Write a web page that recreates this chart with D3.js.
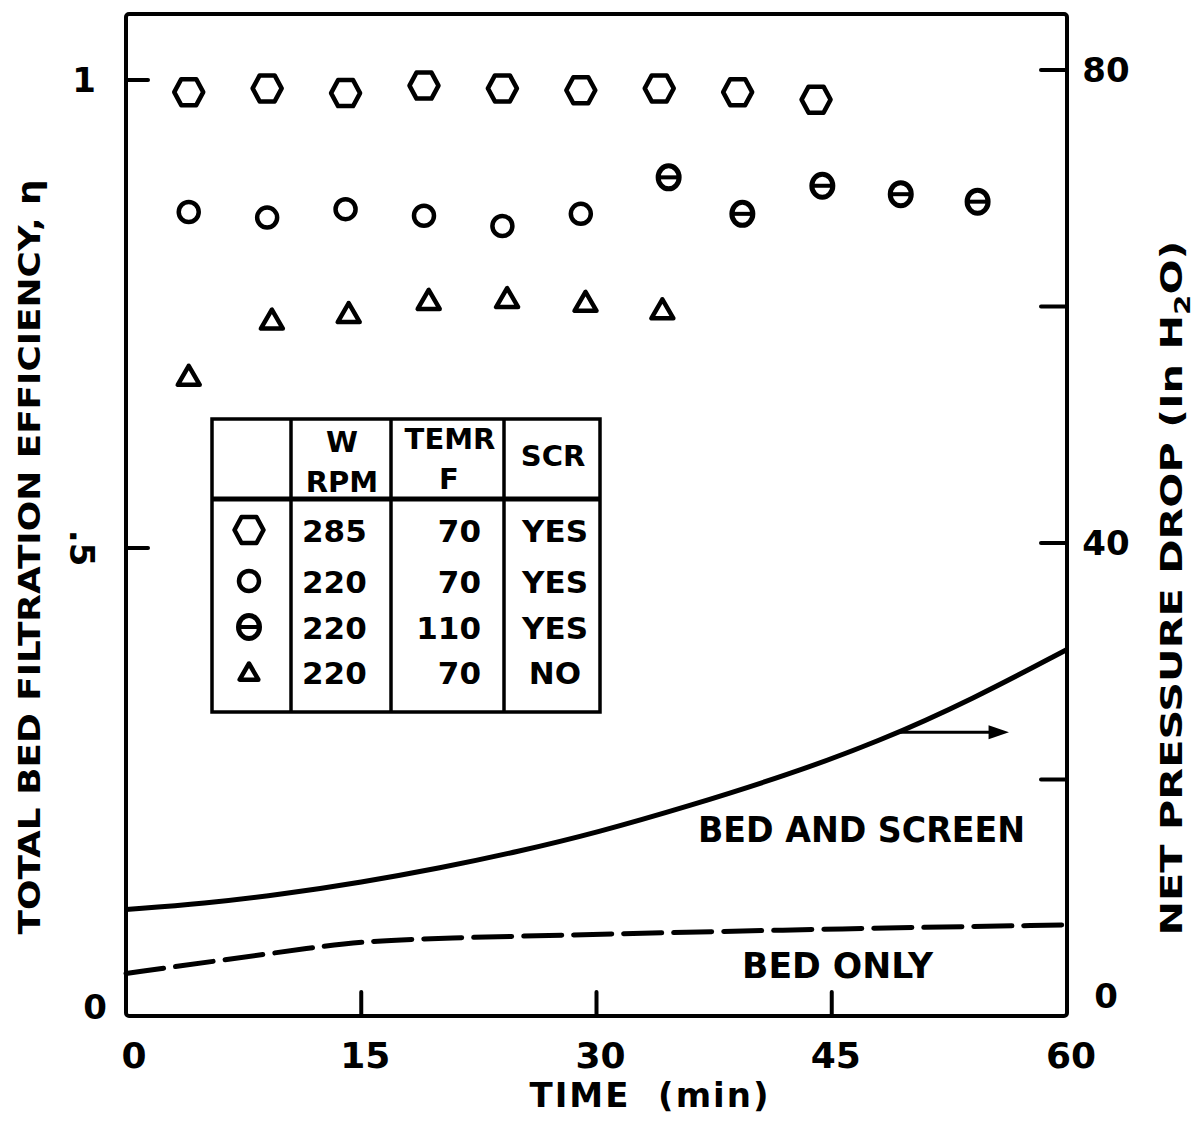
<!DOCTYPE html>
<html><head><meta charset="utf-8">
<script src="https://cdn.jsdelivr.net/npm/d3@7"></script>
<style>body{margin:0;background:#fff}</style>
</head><body>
<script>
// ---- data ----
const hexTime=[4,9,14,19,24,29,34,39,44];
const hexEff=[0.987,0.991,0.986,0.994,0.991,0.989,0.991,0.987,0.979];
const circTime=[4,9,14,19,24,29];
const circEff=[0.859,0.853,0.862,0.855,0.844,0.857];
const thetaTime=[34.6,39.3,44.4,49.4,54.3];
const thetaEff=[0.896,0.857,0.887,0.878,0.870];
const triTime=[4,9.3,14.2,19.3,24.3,29.3,34.2];
const triEff=[0.684,0.744,0.751,0.765,0.767,0.763,0.755];
const bedScreenTime=[0,5,10,15,20,25,30,36,42,48,54,60];
const bedScreenDrop=[9.0,9.5,10.3,11.3,12.5,13.9,15.5,17.8,20.3,23.2,26.8,31.0];
const bedOnlyTime=[0,6,12,15,20,30,46,60];
const bedOnlyDrop=[3.6,4.7,5.8,6.3,6.6,6.9,7.4,7.7];
const xTicks=[0,15,30,45,60];
const xTickLabels=["0","15","30","45","60"];
const effTicks=[0,0.5,1];
const effTickLabels=["0",".5","1"];
const dropTicks=[0,20,40,60,80];
const dropTickLabels=["0","","40","","80"];
const legendSymbols=["hex","circle","theta","tri"];
const legendRPM=["285","220","220","220"];
const legendTemp=["70","70","110","70"];
const legendScr=["YES","YES","YES","NO"];

const W=1204,H=1123;
const FONT="'DejaVu Sans', Verdana, sans-serif";
const svg=d3.select("body").append("svg").attr("width",W).attr("height",H)
  .style("font-family",FONT).style("font-weight","bold");

const x=d3.scaleLinear().domain([0,60]).range([126,1067]);
const yE=d3.scaleLinear().domain([0,1]).range([1016,80]);
const yP=d3.scaleLinear().domain([0,80]).range([1016,70]);
const frameTop=14;

// frame
svg.append("rect").attr("x",x(0)).attr("y",frameTop).attr("width",x(60)-x(0)).attr("height",yE(0)-frameTop)
  .attr("fill","none").attr("stroke","#000").attr("stroke-width",4).attr("rx",3);

// ticks
const g=svg.append("g").attr("stroke","#000").attr("stroke-width",4).attr("stroke-linecap","round");
effTicks.filter(v=>v>0).forEach(v=>g.append("line").attr("x1",x(0)).attr("x2",x(0)+22).attr("y1",yE(v)).attr("y2",yE(v)));
dropTicks.filter(v=>v>0).forEach(v=>g.append("line").attr("x1",x(60)).attr("x2",x(60)-26).attr("y1",yP(v)).attr("y2",yP(v)));
xTicks.filter(v=>v>0&&v<60).forEach(v=>g.append("line").attr("x1",x(v)).attr("x2",x(v)).attr("y1",yE(0)).attr("y2",yE(0)-24));

// tick labels
xTicks.forEach((v,i)=>svg.append("text").attr("x",x(v)+(v===0?8:4)).attr("y",1068).attr("text-anchor","middle")
  .attr("font-size",36).text(xTickLabels[i]));
effTicks.forEach((v,i)=>{
  const t=svg.append("text").attr("font-size",34).attr("text-anchor","middle").text(effTickLabels[i]);
  if(v===0) t.attr("x",95).attr("y",yE(v)+3);
  else if(v===0.5) t.attr("transform",`translate(70,${yE(v)}) rotate(90)`);
  else t.attr("x",84).attr("y",yE(v)+12);
});
dropTicks.forEach((v,i)=>{ if(!dropTickLabels[i]) return;
  svg.append("text").attr("x",1106).attr("y",yP(v)+12-(v===0?20:0)).attr("text-anchor","middle").attr("font-size",34).text(dropTickLabels[i]);});

// axis titles
svg.append("text").attr("x",650).attr("y",1107).attr("text-anchor","middle").attr("font-size",34)
  .attr("letter-spacing",2).style("white-space","pre").text("TIME  (min)");
svg.append("text").attr("transform","translate(40,557) rotate(-90)").attr("text-anchor","middle")
  .attr("font-size",31).attr("textLength",755).attr("lengthAdjust","spacingAndGlyphs")
  .text("TOTAL BED FILTRATION EFFICIENCY, η");
const rt=svg.append("text").attr("transform","translate(1182,588) rotate(-90)").attr("text-anchor","middle")
  .attr("font-size",31).attr("textLength",695).attr("lengthAdjust","spacingAndGlyphs");
rt.append("tspan").text("NET PRESSURE DROP (In H");
rt.append("tspan").attr("font-size",22).attr("dy",8).text("2");
rt.append("tspan").attr("dy",-8).text("O)");

// curves
const lineP=d3.line().x(d=>x(d[0])).y(d=>yP(d[1])).curve(d3.curveBasis);
svg.append("path").datum(bedScreenTime.map((t,i)=>[t,bedScreenDrop[i]])).attr("d",lineP)
  .attr("fill","none").attr("stroke","#000").attr("stroke-width",5);
svg.append("path").datum(bedOnlyTime.map((t,i)=>[t,bedOnlyDrop[i]])).attr("d",lineP)
  .attr("fill","none").attr("stroke","#000").attr("stroke-width",5).attr("stroke-dasharray","38,12").attr("stroke-linecap","round");

// arrow annotation
const arrY=yP(24.0);
svg.append("line").attr("x1",x(49.2)).attr("x2",x(55.2)).attr("y1",arrY).attr("y2",arrY).attr("stroke","#000").attr("stroke-width",3);
svg.append("path").attr("d",`M${x(55.0)},${arrY-7}L${x(56.3)},${arrY}L${x(55.0)},${arrY+7}Z`).attr("fill","#000");
svg.append("text").attr("x",698).attr("y",842).attr("font-size",35).attr("textLength",327).attr("lengthAdjust","spacingAndGlyphs").text("BED AND SCREEN");
svg.append("text").attr("x",742).attr("y",978).attr("font-size",35).attr("textLength",191).attr("lengthAdjust","spacingAndGlyphs").text("BED ONLY");

// markers
function marker(sel,type,s){
  s=s||1;
  if(type==="hex"){
    sel.append("path").attr("d",`M${-14.5*s},0L${-7.5*s},${-13*s}L${7.5*s},${-13*s}L${14.5*s},0L${7.5*s},${13*s}L${-7.5*s},${13*s}Z`)
      .attr("fill","none").attr("stroke","#000").attr("stroke-width",4.5).attr("stroke-linejoin","round");
  } else if(type==="circle"){
    sel.append("circle").attr("r",10*s).attr("fill","none").attr("stroke","#000").attr("stroke-width",4.5);
  } else if(type==="theta"){
    sel.append("ellipse").attr("rx",10.5*s).attr("ry",11.5*s).attr("fill","none").attr("stroke","#000").attr("stroke-width",5);
    sel.append("line").attr("x1",-10*s).attr("x2",10*s).attr("stroke","#000").attr("stroke-width",4);
  } else {
    sel.append("path").attr("d",`M${-11*s},${9*s}L${11*s},${9*s}L0,${-10*s}Z`)
      .attr("fill","none").attr("stroke","#000").attr("stroke-width",4.5).attr("stroke-linejoin","round");
  }
}
function series(times,effs,type){
  times.forEach((t,i)=>marker(svg.append("g").attr("transform",`translate(${x(t)},${yE(effs[i])})`),type));
}
series(hexTime,hexEff,"hex");
series(circTime,circEff,"circle");
series(thetaTime,thetaEff,"theta");
series(triTime,triEff,"tri");

// legend table
const L=212,R=600,T=419,B=712;
const cols=[291,391,504];
const lg=svg.append("g");
lg.append("rect").attr("x",L).attr("y",T).attr("width",R-L).attr("height",B-T).attr("fill","#fff").attr("stroke","#000").attr("stroke-width",3.5);
cols.forEach(c=>lg.append("line").attr("x1",c).attr("x2",c).attr("y1",T).attr("y2",B).attr("stroke","#000").attr("stroke-width",3.5));
lg.append("line").attr("x1",L).attr("x2",R).attr("y1",499).attr("y2",499).attr("stroke","#000").attr("stroke-width",5);
const hdr=(tx,xx,yy,anchor,fs)=>lg.append("text").attr("x",xx).attr("y",yy).attr("text-anchor",anchor||"middle").attr("font-size",fs||29).text(tx);
hdr("W",342,452); hdr("RPM",342,492); hdr("TEMR",450,449); hdr("F",449,489); hdr("SCR",553,466);
const rowY=[530,581,627,672];
legendSymbols.forEach((s,i)=>{
  marker(lg.append("g").attr("transform",`translate(249,${rowY[i]})`),s,s==="tri"?0.85:1);
  hdr(legendRPM[i],302,rowY[i]+12,"start",31);
  hdr(legendTemp[i],481,rowY[i]+12,"end",31);
  hdr(legendScr[i],555,rowY[i]+12,"middle",31);
});
</script>
</body></html>
